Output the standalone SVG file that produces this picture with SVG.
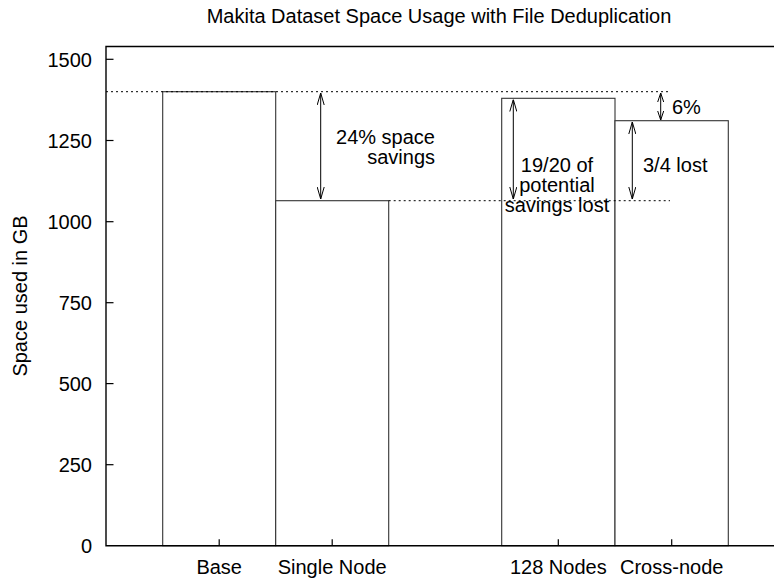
<svg xmlns="http://www.w3.org/2000/svg" width="774" height="580" viewBox="0 0 774 580">
  <style>
    text { font-family: "Liberation Sans", Arial, sans-serif; font-size: 20px; fill: #000; }
    .frame { fill: none; stroke: #000; stroke-width: 1.4; }
    .tick { stroke: #000; stroke-width: 1.2; }
    .bar { fill: #fff; stroke: #333; stroke-width: 1.1; }
    .ref { stroke: #000; stroke-width: 1; stroke-dasharray: 2 3; }
    .dim { stroke: #000; stroke-width: 1; fill: none; }
    .ylab { text-anchor: end; }
    .xlab { text-anchor: middle; }
  </style>
  <defs>
    <marker id="head" viewBox="0 0 12 8" refX="12" refY="4" markerWidth="12" markerHeight="8" markerUnits="userSpaceOnUse" orient="auto-start-reverse">
      <path d="M0,0.5 L12,4 L0,7.5" fill="none" stroke="#000" stroke-width="1"/>
    </marker>
    <marker id="head-small" viewBox="0 0 9 7" refX="9" refY="3.5" markerWidth="9" markerHeight="7" markerUnits="userSpaceOnUse" orient="auto-start-reverse">
      <path d="M0,0.5 L9,3.5 L0,6.5" fill="none" stroke="#000" stroke-width="1"/>
    </marker>
  </defs>

  <rect width="774" height="580" fill="#fff"/>

  <text x="439" y="23" text-anchor="middle">Makita Dataset Space Usage with File Deduplication</text>

  <!-- bars -->
  <g id="bar-base"><rect class="bar" x="162.7" y="91.7" width="113" height="454"/></g>
  <g id="bar-single"><rect class="bar" x="275.7" y="200.7" width="113" height="345"/></g>
  <g id="bar-128"><rect class="bar" x="501.7" y="98.3" width="113.3" height="447.4"/></g>
  <g id="bar-cross"><rect class="bar" x="615" y="120.7" width="113.3" height="425"/></g>

  <!-- axes frame -->
  <g id="axes">
    <path class="frame" d="M776,46.5 H106 V545.7 H776"/>
    <g class="tick">
      <line x1="106" y1="59.3" x2="113.5" y2="59.3"/>
      <line x1="106" y1="140.5" x2="113.5" y2="140.5"/>
      <line x1="106" y1="221.7" x2="113.5" y2="221.7"/>
      <line x1="106" y1="302.7" x2="113.5" y2="302.7"/>
      <line x1="106" y1="383.6" x2="113.5" y2="383.6"/>
      <line x1="106" y1="464.7" x2="113.5" y2="464.7"/>
      <line x1="219.2" y1="545.7" x2="219.2" y2="539.2"/>
      <line x1="332.2" y1="545.7" x2="332.2" y2="539.2"/>
      <line x1="558.3" y1="545.7" x2="558.3" y2="539.2"/>
      <line x1="671.7" y1="545.7" x2="671.7" y2="539.2"/>
    </g>
    <text class="ylab" x="92" y="66.5">1500</text>
    <text class="ylab" x="92" y="147.5">1250</text>
    <text class="ylab" x="92" y="228.7">1000</text>
    <text class="ylab" x="92" y="309.7">750</text>
    <text class="ylab" x="92" y="390.6">500</text>
    <text class="ylab" x="92" y="471.7">250</text>
    <text class="ylab" x="92" y="552.7">0</text>
    <text class="xlab" x="219.2" y="574">Base</text>
    <text class="xlab" x="332.2" y="574">Single Node</text>
    <text class="xlab" x="558.3" y="574">128 Nodes</text>
    <text class="xlab" x="671.7" y="574">Cross-node</text>
    <text transform="translate(27,296) rotate(-90)" text-anchor="middle">Space used in GB</text>
  </g>

  <!-- reference levels and dimension arrows -->
  <g id="connectors">
    <line class="ref" x1="106" y1="91.7" x2="670" y2="91.7"/>
    <line class="ref" x1="388.7" y1="200.7" x2="670" y2="200.7"/>
    <line class="dim" x1="320.7" y1="93" x2="320.7" y2="199" marker-start="url(#head)" marker-end="url(#head)"/>
    <line class="dim" x1="513.3" y1="99.5" x2="513.3" y2="199" marker-start="url(#head)" marker-end="url(#head)"/>
    <line class="dim" x1="660.7" y1="93" x2="660.7" y2="120" marker-start="url(#head-small)" marker-end="url(#head-small)"/>
    <line class="dim" x1="632.3" y1="122" x2="632.3" y2="199" marker-start="url(#head)" marker-end="url(#head)"/>
  </g>

  <!-- annotations -->
  <g id="labels">
    <text x="435" y="144" text-anchor="end">24% space</text>
    <text x="435" y="164" text-anchor="end">savings</text>
    <text x="557" y="172" text-anchor="middle">19/20 of</text>
    <text x="557" y="192" text-anchor="middle">potential</text>
    <text x="557" y="212" text-anchor="middle">savings lost</text>
    <text x="643" y="172">3/4 lost</text>
    <text x="672" y="113.5">6%</text>
  </g>
</svg>
